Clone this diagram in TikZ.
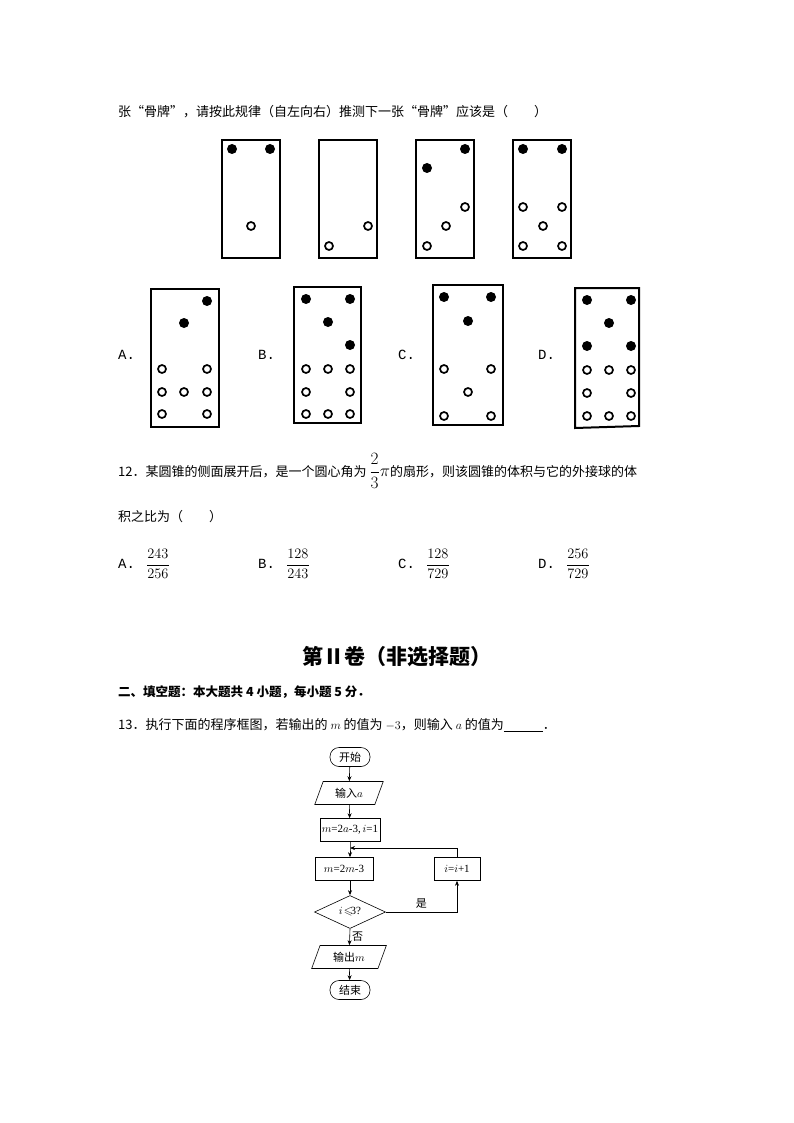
\documentclass[tikz,border=0pt]{standalone}
\usepackage{amsmath,amssymb}
\usepackage{fontspec}
\setmainfont{Liberation Serif}
\setmonofont{Liberation Mono}
\newfontfamily\cjk{Noto Sans CJK SC}
\usetikzlibrary{shapes.geometric,arrows.meta,positioning}
\tikzset{
  bone/.style={line width=2pt},
  hole/.style={line width=1.7pt},
  proc/.style={draw, line width=0.6pt, minimum height=23pt, inner sep=2pt, font=\fontsize{11}{12}\selectfont},
  io/.style={proc, trapezium, trapezium left angle=70, trapezium right angle=110, minimum width=50pt},
  term/.style={proc, rounded corners=9pt, minimum height=19pt, minimum width=40pt},
  ask/.style={proc, diamond, aspect=2.2, minimum width=71pt, minimum height=33pt, inner sep=0pt},
  flow/.style={line width=0.6pt, -{Stealth[length=5pt,width=4pt]}},
  txt/.style={anchor=west, inner sep=0pt, font=\fontsize{13}{14}\selectfont\cjk},
  letter/.style={anchor=west, inner sep=0pt, font=\fontsize{14}{15}\selectfont\ttfamily}
}
\begin{document}
\begin{tikzpicture}[x=1pt,y=-1pt]
\useasboundingbox (0,0) rectangle (794,1123);
\def\r{5}
% question text
\node[txt] (q11) at (118,112) {张“骨牌”，请按此规律（自左向右）推测下一张“骨牌”应该是（\quad\quad）};
% given dominoes
\foreach \x in {222,319,416,513} {
    \draw[bone] (\x,140) rectangle (\x+58,258);
}
\foreach \p in {(232,149),(270,149),(465,149),(427,168),(523,149),(562,149)} {
    \fill \p circle (\r);
}
\foreach \p in {(251,226),(368,226),(329,246),(465,207),(446,226),(427,246),
                (523,207),(562,207),(543,226),(523,246),(562,246)} {
    \draw[hole] \p circle (4);
}
% choices
\draw[bone] (151,289) rectangle (219,427);
\draw[bone] (294,287) rectangle (361,423);
\draw[bone] (433,285) rectangle (503,425);
\draw[bone] (575,288) -- (639,288) -- (639,426) -- (575,428) -- cycle;
\foreach \p in {(207,301),(184,323),
                (306,299),(350,299),(328,322),(350,345),
                (444,297),(491,297),(468,321),
                (587,300),(631,300),(609,323),(587,346),(631,346)} {
    \fill \p circle (\r);
}
\foreach \p in {(162,369),(207,369),(162,392),(184,392),(207,392),(162,414),(207,414),
                (306,369),(328,369),(350,369),(306,392),(350,392),(306,414),(328,414),(350,414),
                (444,369),(491,369),(468,392),(444,416),(491,416),
                (587,370),(609,370),(631,370),(587,393),(631,393),(587,416),(609,416),(631,416)} {
    \draw[hole] \p circle (4);
}
\foreach \l/\x in {A/118,B/258,C/398,D/538} {
    \node[letter] (c\l) at (\x,355) {\l.};
}
% question 12
\node[txt] (q12) at (118,471) {12．某圆锥的侧面展开后，是一个圆心角为\mbox{\fontsize{16}{18}\selectfont$\,\dfrac{2}{3}\pi$}的扇形，则该圆锥的体积与它的外接球的体};
\node[txt] (q12b) at (118,517) {积之比为（\quad\quad）};
\foreach \l/\x/\a/\b in {A/118/243/256,B/258/128/243,C/398/128/729,D/538/256/729} {
    \node[letter] (o\l) at (\x,564) {\l.};
    \node[txt, font=\fontsize{15}{16}\selectfont] (f\l) at (\x+28,564) {$\dfrac{\a}{\b}$};
}
% part II
\node[font=\fontsize{21}{24}\selectfont\cjk\bfseries] (title) at (397,657) {第Ⅱ卷（非选择题）};
\node[txt, font=\fontsize{12.5}{14}\cjk\bfseries] (sec) at (118,692) {二、填空题：本大题共 4 小题，每小题 5 分．};
\node[txt] (q13) at (118,725) {13．执行下面的程序框图，若输出的 $m$ 的值为 $-3$，则输入 $a$ 的值为\underline{\hspace{3em}}．};
% flowchart
\node[term] (start) at (350,757) {\cjk 开始};
\node[io] (in) at (349,793) {\cjk 输入$a$};
\node[proc] (init) at (350,830) {$m$=2$a$-3,$\,i$=1};
\node[proc, minimum width=58pt] (step) at (344,869) {$m$=2$m$-3};
\node[proc, minimum width=46pt] (inc) at (457,869) {$i$=$i$+1};
\node[ask] (test) at (350,912) {$i\!\leqslant\!$3?};
\node[io] (out) at (349,957) {\cjk 输出$m$};
\node[term] (stop) at (350,990) {\cjk 结束};
\coordinate (join) at (350,848);
\draw[flow] (start) -- (in);
\draw[flow] (in) -- (init);
\draw[flow] (init.south) -- (join) -- (step.north -| join);
\draw[flow] (step.south -| test) -- (test);
\draw[flow] (test.east) -| node[pos=0.25, above, font=\fontsize{11}{12}\cjk] {是} (inc.south);
\draw[flow] (inc.north) |- (join);
\draw[flow] (test.south) -- node[right, font=\fontsize{11}{12}\cjk, inner sep=2pt] {否} (out);
\draw[flow] (out) -- (stop);
\end{tikzpicture}
\end{document}
